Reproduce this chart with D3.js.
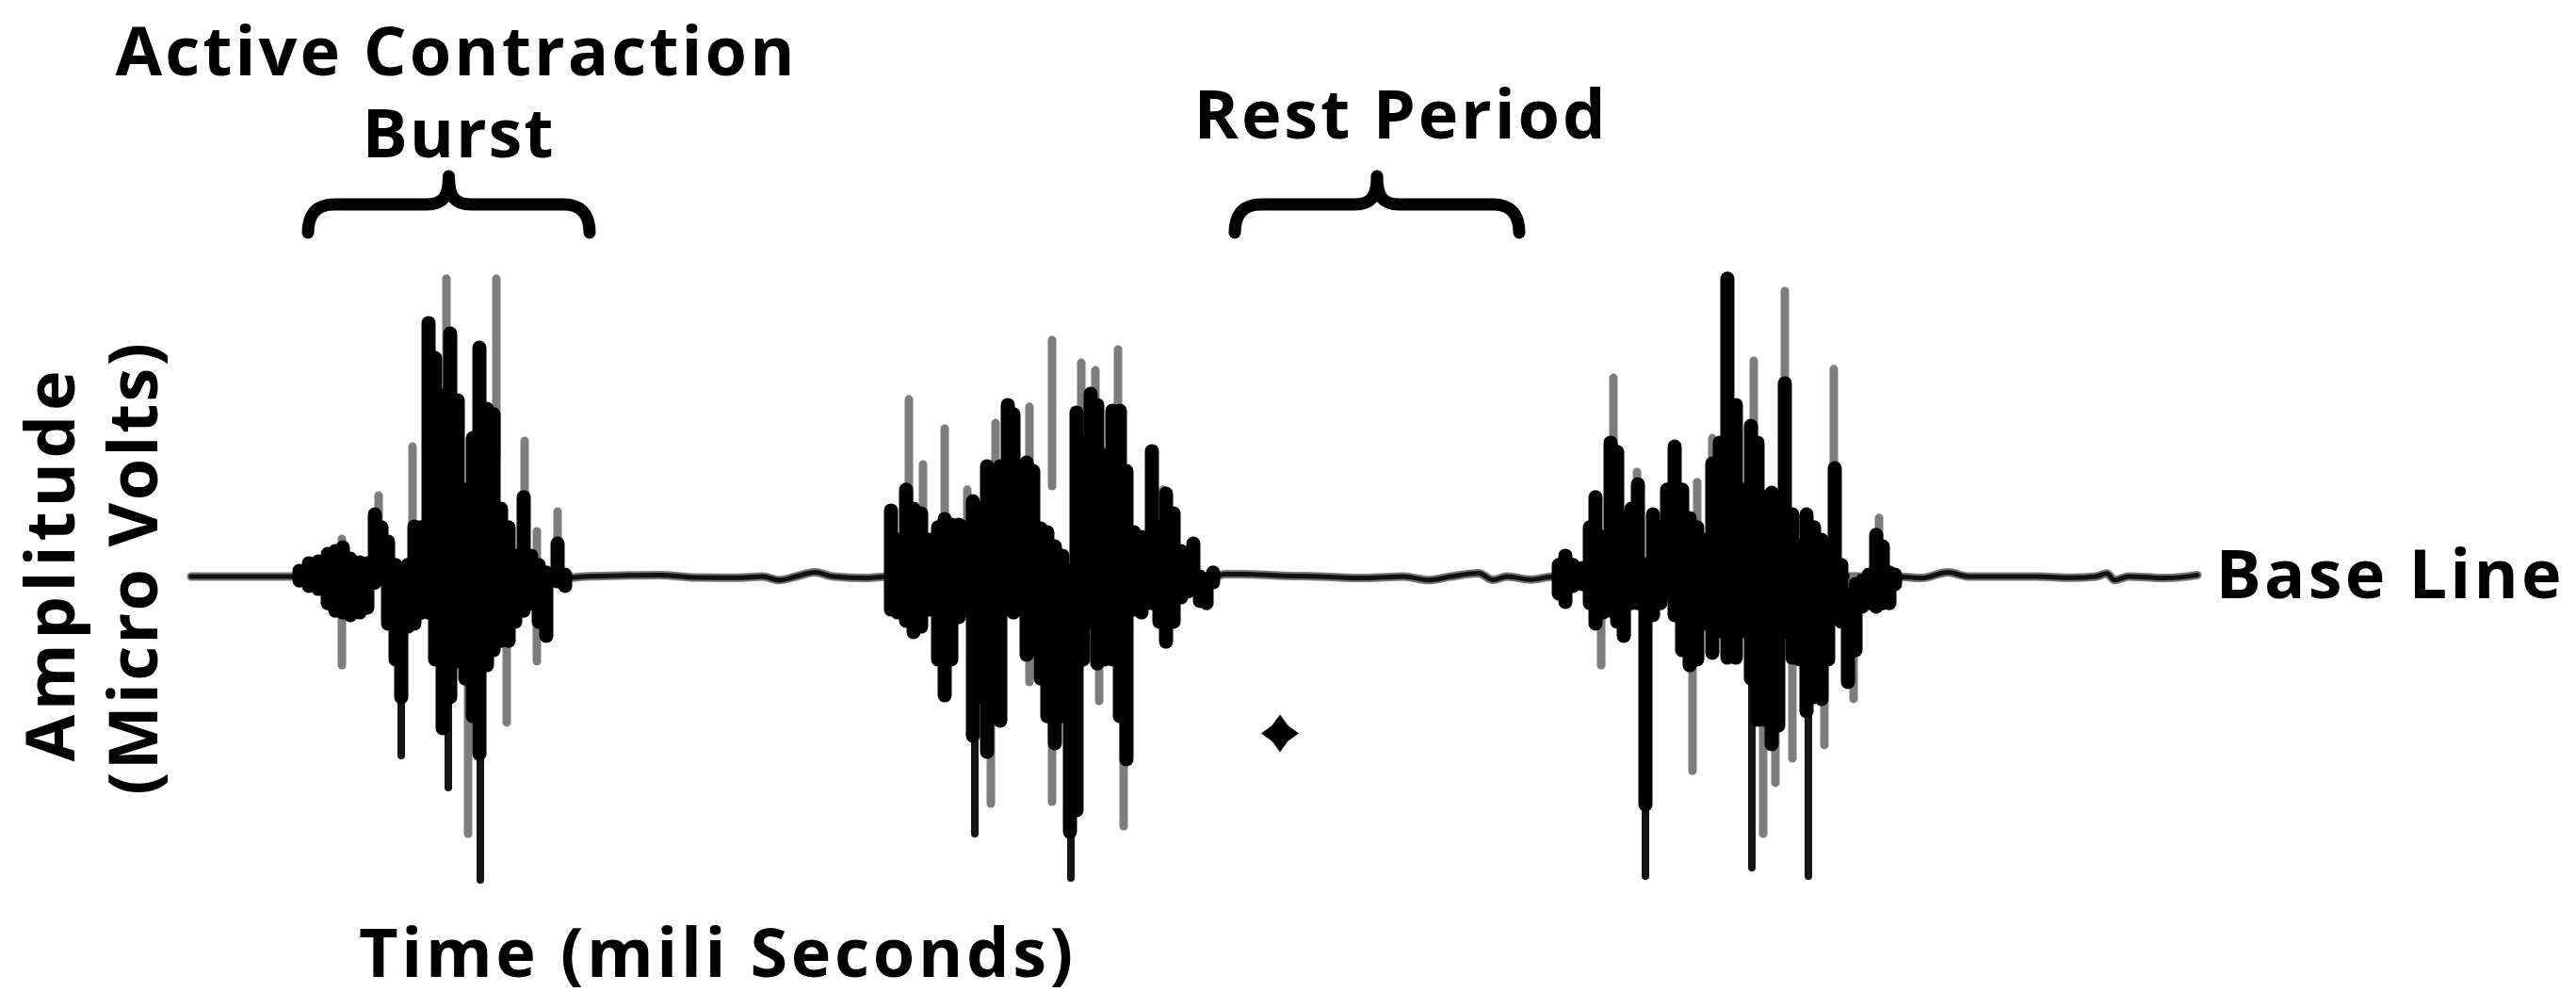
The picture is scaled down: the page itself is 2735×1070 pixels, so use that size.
<!DOCTYPE html>
<html>
<head>
<meta charset="utf-8">
<script src="https://cdn.jsdelivr.net/npm/d3@7"></script>
<style>
  html, body { margin: 0; padding: 0; background: #fff; }
  svg { display: block; }
  .label { font-family: "Open Sans", Lato, sans-serif; font-weight: 700; fill: #000; }
</style>
</head>
<body>
<div id="chart"></div>
<script>
var width = 2735,
    height = 1070;

// trace values: [time ms, amplitude uV]
var baseline = [[1.5,0],[56.5,0],[200,-0.5],[210,0],[230,0.3],[250,0.5],[270,-0.3],[290,-0.4],[305,0],
    [313.5,-1.2],[322.5,0],[332.5,1.4],[342.5,0],[360,-0.5],[371.5,0],[545,0],[550,0.8],[560,0.8],[579,0.3],
    [600,0],[625,-0.5],[645,0],[658.5,-1.2],[670,0],[685,1.1],[692.5,-1.1],[700,0],[712.5,-1],[725,0],
    [906,0],[920,-0.5],[934,1.4],[945,0],[981.5,0],[1000,-0.4],[1012.5,0],[1018.5,1],[1022.5,-1.2],
    [1030,0],[1050,-0.5],[1066.5,0.5]];

// spikes: [time ms, low uV, high uV]
var burst1Body = [[59,-1.3,1.9],[64,-3.1,4.4],[69,-4.1,5.0],[74,-8.8,7.5],[78,-11.3,8.4],[82,-11.9,9.7],
    [86,-12.8,5.9],[91,-11.9,4.7],[95,-10.3,4.4],[99,-2,20.6],[102.5,0.6,16.3],[106,-15.6,11.6],
    [110,-27.5,3.8],[113,-40,-2.5],[116.5,-16.6,3.8],[120,-15.6,16.6],[123.5,-12,16.3],[127.5,-11.9,84.1],
    [131,-27.5,72.5],[135,-50.3,60],[139,-40,80.6],[143,-28.1,58.4],[147,-33.8,28.8],[151,-46.3,45.9],
    [154.5,-58.8,75.9],[158.5,-29.4,55.6],[162,-24.4,53.8],[166,-21.3,22.5],[170,-21.3,16.3],
    [173.5,-15,6.9],[178,-11.3,26.3],[182,-8.8,6.9],[186,-15,3.8],[190,-19.7,1.3],[196,-1.6,10.9],
    [200,-3.1,0.6]];
var burst1Tips = [[81.5,-29.4,12.5],[101,3.8,26.9],[119,3.8,43.1],[137,40,98.8],[148.5,-85.3,0],
    [163.5,40,98.8],[169,-48.4,0],[178.5,0,45],[185,-28.1,15],[196,-1.6,21.6]];
var burst1Thin = [[113,-59.4,-20],[138,-70,-30],[155,-100.6,-40]];

var burst2Body = [[373,-10.9,21.9],[376.5,-11.9,12.2],[381,-14.7,28.8],[385,-18.4,22.5],[389,-16.6,20.9],
    [393.5,-10.9,12.2],[398,-27.5,16.3],[401.5,-39.4,19.1],[405,-27.5,17.2],[409,-13.4,17.2],
    [412.5,-10.9,16.3],[416.5,-52.8,25],[420,-40,22.5],[424,-58.1,36.6],[427.5,-46.3,31.9],
    [431,-47.8,36.6],[435,-5,56.9],[438,-11.9,53.8],[441.5,-10.9,16.3],[445,-25.9,37.8],[448.5,-24.4,35],
    [452.5,-33.8,15.9],[456,-46.3,14.7],[460,-55.3,10],[464,-46.3,6.9],[468,-84.7,1.9],[471.5,-77.5,54.4],
    [475,-27.5,44.4],[479,-15,60.6],[482.5,-28.8,56.9],[486.5,-27.5,40.3],[490.5,-27.5,55],
    [494.5,-46.3,55],[498,-60.6,35],[502,-10.9,14.7],[506,-11.9,13.1],[511.5,-8.8,41.6],[515.5,-15,16.3],
    [519,-21.6,27.5],[523,-15,20.9],[527,-6.9,8.4],[530.5,-5,6.9],[533.5,-4.1,10.9],[537,-8.1,0],
    [540.5,-8.8,-0.9],[544,-1.9,1.3]];
var burst2Tips = [[382.5,0,58.8],[390,0,37.2],[401.5,0,49.1],[413.5,0,28.8],[426,-75.3,0],[428.5,0,50.9],
    [446.5,-35,56.3],[458.5,-74.7,0],[458.5,30,78.4],[474,0,70.9],[481.5,0,68.4],[483.5,-41.3,0],
    [493.5,0,75.3],[496.5,-82.8,0],[517.5,0,28.8]];
var burst2Thin = [[417.5,-85.3,-30],[468.5,-100,-50]];

var burst3Body = [[727.5,-5.6,3.8],[731,-8.4,6.9],[735,-3.1,3.8],[740,-2.5,2.8],[744,-8.8,16.3],
    [747,-15.6,26.3],[751,-11.9,13.1],[755,-11.3,44.4],[758.5,-15,41.3],[762,-19.7,19.4],[766,-8.8,22.5],
    [769.5,-8.8,30.6],[773.5,-75.6,4.1],[777.5,-12.8,20.6],[781.5,-8.8,16.3],[785,-5.6,28.8],
    [789,-12.8,43.1],[793,-24.4,28.8],[797,-29.4,19.4],[801,-27.5,16.3],[804.5,-15.6,12.2],
    [809,-25.3,37.5],[813,-18.1,44.4],[817,-26.9,98.8],[821.5,-26.9,56.9],[825.5,-18.1,28.8],
    [829.5,-33.8,50],[833,-47.5,44.4],[836.5,-47.5,26.3],[840.5,-55.6,27.8],[844,-49.4,22.5],
    [847.5,-18.4,64.1],[851.5,-26.9,20.6],[855.5,-27.5,10],[859,-44.7,20.6],[863,-40,16.3],
    [867,-40.6,12.2],[870.5,-27.5,10],[874,-5,35.9],[877.5,-15,3.8],[881,-35,-5.9],[885,-24.4,-2.5],
    [888.5,-10,-1.6],[892,-8.8,0.6],[896,-10,13.8],[899.5,-8.8,10],[903,-8.8,1.3],[906,-2.5,0.6]];
var burst3Tips = [[750,-29.4,0],[756.5,0,65.9],[763.5,-19.7,0],[769,0,34.7],[798.5,-64.4,0],[801,0,31.3],
    [809,0,45.9],[831,0,71.6],[836,-85.3,0],[842.5,-68.4,0],[847.5,0,94.7],[851.5,-60.3,0],
    [868.5,-55.9,0],[873.5,0,68.8],[884,-40.6,0],[897.5,0,19.4]];
var burst3Thin = [[773.5,-99.4,-40],[830,-96.6,-30],[860,-99.4,-40]];

// braces over the burst and the rest period, in ms
var braceSpans = [[63.5, 213], [555.5, 706.5]];
var starPoint = [[579.5, -52]];

var x = d3.scaleLinear().domain([0, 1067.5]).range([200, 2335]);
var y = d3.scaleLinear().domain([-100, 100]).range([932, 292]);

var svg = d3.select("#chart")
    .append("svg")
    .attr("width", width)
    .attr("height", height);

svg.append("rect").attr("width", width).attr("height", height).attr("fill", "#fff");

var line = d3.line()
    .x(function(d) { return x(d[0]); })
    .y(function(d) { return y(d[1]); })
    .curve(d3.curveMonotoneX);

svg.append("path")
    .datum(baseline)
    .attr("d", line)
    .attr("fill", "none")
    .attr("stroke", "#777")
    .attr("stroke-width", 9)
    .attr("stroke-linecap", "round");
svg.append("path")
    .datum(baseline)
    .attr("d", line)
    .attr("fill", "none")
    .attr("stroke", "#111")
    .attr("stroke-width", 5)
    .attr("stroke-linecap", "round");

function spikes(data, colour, w, cap) {
    svg.append("g").selectAll("line")
        .data(data)
        .enter().append("line")
        .attr("x1", function(d) { return x(d[0]); })
        .attr("x2", function(d) { return x(d[0]); })
        .attr("y1", function(d) { return y(d[1]); })
        .attr("y2", function(d) { return y(d[2]); })
        .attr("stroke", colour)
        .attr("stroke-width", w)
        .attr("stroke-linecap", cap);
}

[burst1Tips, burst2Tips, burst3Tips].forEach(function(d) { spikes(d, "#7d7d7d", 9, "round"); });
[burst1Thin, burst2Thin, burst3Thin].forEach(function(d) { spikes(d, "#151515", 8, "round"); });
[burst1Body, burst2Body, burst3Body].forEach(function(d) { spikes(d, "#000", 15, "round"); });

// curly braces
function bracePath(x0, x1) {
    var yEnd = 247, yBar = 217, yTip = 187, r = 28, xm = (x0 + x1) / 2;
    var p = d3.path();
    p.moveTo(x0, yEnd);
    p.quadraticCurveTo(x0, yBar, x0 + r, yBar);
    p.lineTo(xm - 24, yBar);
    p.bezierCurveTo(xm - 6, yBar, xm, yBar - 8, xm, yTip);
    p.bezierCurveTo(xm, yBar - 8, xm + 6, yBar, xm + 24, yBar);
    p.lineTo(x1 - r, yBar);
    p.quadraticCurveTo(x1, yBar, x1, yEnd);
    return p.toString();
}

svg.selectAll(".brace")
    .data(braceSpans)
    .enter().append("path")
    .attr("class", "brace")
    .attr("d", function(d) { return bracePath(x(d[0]), x(d[1])); })
    .attr("fill", "none")
    .attr("stroke", "#000")
    .attr("stroke-width", 13)
    .attr("stroke-linecap", "round")
    .attr("stroke-linejoin", "round");

// four point star mark
var sparkle = {
    draw: function(ctx, size) {
        var r = Math.sqrt(size) / 2, k = r * 0.42;
        ctx.moveTo(0, -r);
        ctx.lineTo(k, -k);
        ctx.lineTo(r, 0);
        ctx.lineTo(k, k);
        ctx.lineTo(0, r);
        ctx.lineTo(-k, k);
        ctx.lineTo(-r, 0);
        ctx.lineTo(-k, -k);
        ctx.closePath();
    }
};
svg.selectAll(".star")
    .data(starPoint)
    .enter().append("path")
    .attr("class", "star")
    .attr("transform", function(d) { return "translate(" + x(d[0]) + "," + y(d[1]) + ")"; })
    .attr("d", d3.symbol().type(sparkle).size(40 * 40))
    .attr("fill", "#000");

// labels: fixed size, letter spacing opened up to the width taken in the picture
var fontSize = 72;
var labels = [
    {text: "Active Contraction", x: 483, y: 80, w: 721, rot: 0},
    {text: "Burst", x: 486, y: 167, w: 203, rot: 0},
    {text: "Rest Period", x: 1486, y: 147, w: 437, rot: 0},
    {text: "Base Line", x: 2536, y: 635, w: 367, rot: 0},
    {text: "Time (mili Seconds)", x: 760, y: 1037, w: 758, rot: 0},
    {text: "Amplitude", x: 79, y: 601, w: 415, rot: -90},
    {text: "(Micro Volts)", x: 167, y: 604, w: 480, rot: -90}
];

labels.forEach(function(l) {
    var t = svg.append("text")
        .attr("class", "label")
        .attr("font-size", fontSize)
        .attr("text-anchor", "middle")
        .text(l.text);
    var len = t.node().getComputedTextLength();
    var gap = Math.max(0, (l.w - len) / (l.text.length - 1));
    t.attr("letter-spacing", gap.toFixed(2))
        .attr("transform", "translate(" + l.x + "," + l.y + ") rotate(" + l.rot + ") translate(" + (gap / 2) + ",0)");
});
</script>
</body>
</html>
